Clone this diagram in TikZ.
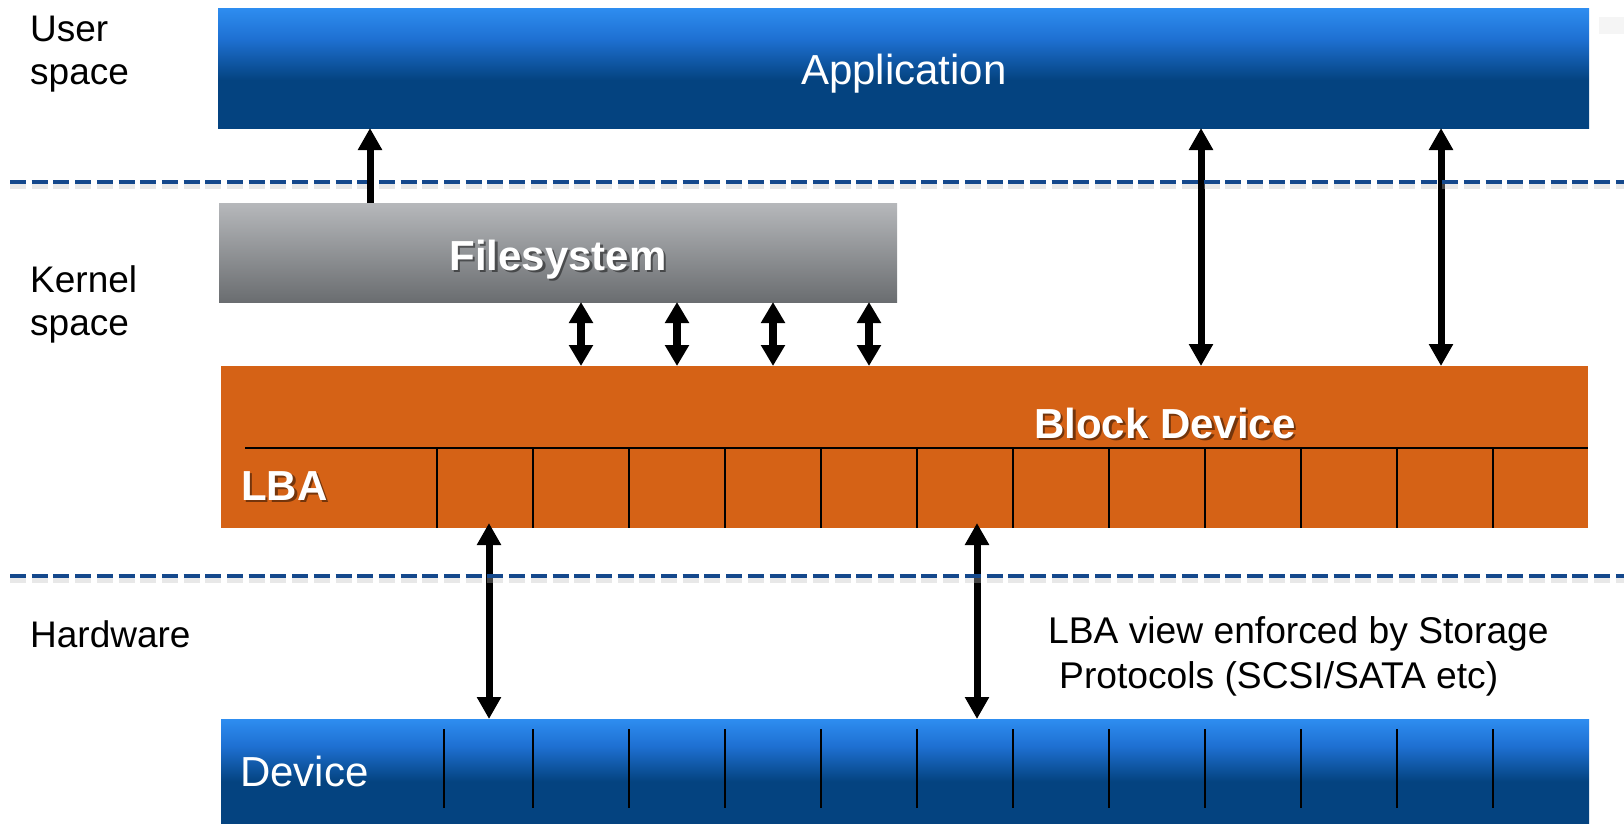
\documentclass[tikz,border=0pt]{standalone}
\usepackage{fontspec}
\setmainfont{Liberation Sans}
\usetikzlibrary{arrows.meta}
\definecolor{btop}{RGB}{46,141,240}
\definecolor{bmid}{RGB}{30,112,210}
\definecolor{bdark}{RGB}{4,67,128}
\definecolor{gtop}{RGB}{182,184,187}
\definecolor{gbot}{RGB}{106,109,112}
\definecolor{orangebd}{RGB}{213,98,22}
\definecolor{dashblue}{RGB}{20,72,140}
\pgfdeclareverticalshading{bluegrad}{100bp}{color(0bp)=(bdark); color(25bp)=(bdark); color(45bp)=(bdark); color(62bp)=(bmid); color(75bp)=(btop); color(100bp)=(btop)}
\begin{document}
\begin{tikzpicture}[x=1pt,y=-1pt,
  box/.style={draw=none, inner sep=0pt, outer sep=0pt, anchor=north west},
  bluebox/.style={box, shade, shading=bluegrad},
  graybox/.style={box, top color=gtop, bottom color=gbot},
  orangebox/.style={box, fill=orangebd},
  boxtext/.style={inner sep=0pt, text=white, font={\fontsize{42}{48}\selectfont}},
  boldtext/.style={inner sep=0pt, text=white, font={\fontsize{42}{48}\selectfont\bfseries}},
  boldshadow/.style={boldtext, text=black, opacity=0.45},
  sidelabel/.style={inner sep=0pt, anchor=base west, font={\fontsize{37}{44}\selectfont}},
  note/.style={inner sep=0pt, anchor=base west, font={\fontsize{37.2}{44}\selectfont}},
  gridline/.style={black, line width=2pt},
  dashline/.style={dashblue, line width=4pt, dash pattern=on 16pt off 5.7pt},
  dashshadow/.style={black!25, opacity=0.35, line width=5pt, dash pattern=on 16pt off 5.7pt},
  dbl/.style={line width=7pt, {Triangle[width=23pt,length=22pt]}-{Triangle[width=23pt,length=22pt]}},
  sdbl/.style={line width=8pt, {Triangle[width=23pt,length=21pt]}-{Triangle[width=23pt,length=21pt]}},
  uparrow/.style={line width=7pt, -{Triangle[width=23pt,length=22pt]}}
]
\useasboundingbox (0,0) rectangle (1624,823);
\fill[white] (0,0) rectangle (1624,823);
\fill[gray!8] (1599,17) rectangle (1624,34);

% boxes
\node[bluebox, minimum width=1371pt, minimum height=120pt] (app) at (218,8) {};
\node[graybox, minimum width=678pt, minimum height=99pt] (fs) at (219,203) {};
\node[orangebox, minimum width=1367pt, minimum height=162pt] (bd) at (221,366) {};
\node[bluebox, minimum width=1368pt, minimum height=104pt] (dev) at (221,719) {};

% box texts
\node[boxtext, anchor=base] (apptxt) at (904,84) {Application};
\node[boxtext, anchor=base west] (devtxt) at (240,786) {Device};
\node[boldshadow, anchor=base] at (560.5,272.5) {Filesystem};
\node[boldtext, anchor=base] (fstxt) at (558,270) {Filesystem};
\node[boldshadow, anchor=base] at (1167.5,440.5) {Block Device};
\node[boldtext, anchor=base] (bdtxt) at (1165,438) {Block Device};
\node[boldshadow, anchor=base west] at (243.5,502.5) {LBA};
\node[boldtext, anchor=base west] (lbatxt) at (241,500) {LBA};

% LBA grid
\draw[gridline] (245,448) -- (bd.east |- 245,448);
\foreach \x in {437,533,...,1493} \draw[gridline] (\x,448) -- (\x,528);
% device grid
\foreach \x in {444,533,629,...,1493} \draw[gridline, line width=1.8pt] (\x,729) -- (\x,808);

% side labels
\node[sidelabel] (u1) at (30,41) {User};
\node[sidelabel] (u2) at (30,84) {space};
\node[sidelabel] (k1) at (30,292) {Kernel};
\node[sidelabel] (k2) at (30,335) {space};
\node[sidelabel] (hw) at (30,647) {Hardware};

% note
\node[note] (n1) at (1048,643) {LBA view enforced by Storage};
\node[note] (n2) at (1059,688) {Protocols (SCSI/SATA etc)};

% arrows
\coordinate (bdlow) at ([yshift=5pt]bd.south);
\draw[dbl] (app.south -| 1201,0) -- (bd.north -| 1201,0);
\draw[dbl] (app.south -| 1441,0) -- (bd.north -| 1441,0);
\draw[dbl] (bdlow -| 489,0) -- (dev.north -| 489,0);
\draw[dbl] (bdlow -| 977,0) -- (dev.north -| 977,0);
\foreach \x in {581,677,773,869} \draw[sdbl] (fs.south -| \x,0) -- (bd.north -| \x,0);

% dashed separators
\coordinate (d1a) at (10,182);
\coordinate (d1b) at (1624,182);
\coordinate (d2a) at (10,576);
\coordinate (d2b) at (1624,576);
\draw[dashshadow] ([yshift=-4pt]d1a) -- ([yshift=-4pt]d1b);
\draw[dashshadow] ([yshift=-4pt]d2a) -- ([yshift=-4pt]d2b);
\draw[dashline] (d1a) -- (d1b);
\draw[dashline] (d2a) -- (d2b);

\draw[uparrow] (fs.north -| 370,0) -- (app.south -| 370,0);
\end{tikzpicture}
\end{document}
